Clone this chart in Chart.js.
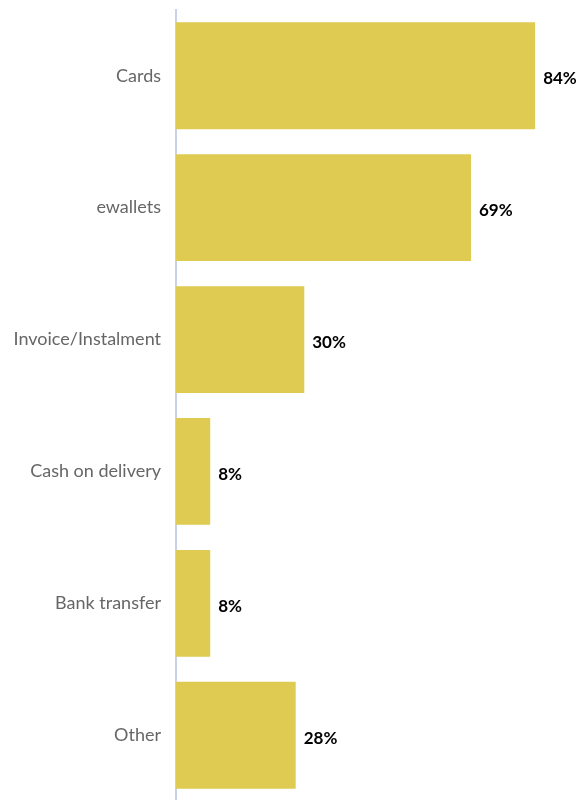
<!DOCTYPE html>
<html>
<head>
<meta charset="utf-8">
<script src="https://cdn.jsdelivr.net/npm/chart.js@4"></script>
<style>
  html, body { margin: 0; padding: 0; background: #fff; overflow: hidden; }
  #wrap { position: relative; width: 579px; height: 843px; margin-top: -16px; }
</style>
</head>
<body>
<div id="wrap"><canvas id="chart"></canvas></div>
<script>
// payment methods and share of respondents (%)
const methods = ['Cards', 'ewallets', 'Invoice/Instalment', 'Cash on delivery', 'Bank transfer', 'Other'];
const shares = [84, 69, 30, 8, 8, 28];

const barColor = '#e0cb52';

// writes the "NN%" text just past the end of each bar
const valueLabels = {
  id: 'valueLabels',
  afterDatasetsDraw(chart) {
    const ctx = chart.ctx;
    const meta = chart.getDatasetMeta(0);
    ctx.save();
    ctx.font = 'bold 17px Lato';
    ctx.fillStyle = '#000';
    ctx.textAlign = 'left';
    ctx.textBaseline = 'middle';
    meta.data.forEach((bar, i) => {
      ctx.fillText(shares[i] + '%', bar.x + 8, bar.y + 3);
    });
    ctx.restore();
  }
};

new Chart(document.getElementById('chart'), {
  type: 'bar',
  data: {
    labels: methods,
    datasets: [{
      data: shares,
      backgroundColor: barColor,
      categoryPercentage: 0.81,
      barPercentage: 1.0
    }]
  },
  options: {
    indexAxis: 'y',
    responsive: true,
    maintainAspectRatio: false,
    animation: false,
    layout: { padding: { top: 10, right: 0, bottom: 0, left: 0 } },
    plugins: { legend: { display: false }, tooltip: { enabled: false } },
    scales: {
      x: { display: false, min: 0, max: 94.26 },
      y: {
        afterFit(scale) { scale.width = 176; },
        grid: { display: false, drawTicks: false },
        border: { color: '#c8d3ea', width: 2 },
        ticks: { color: '#666', padding: 15, font: { family: 'Lato', size: 18 } }
      }
    }
  },
  plugins: [valueLabels]
});
</script>
</body>
</html>
